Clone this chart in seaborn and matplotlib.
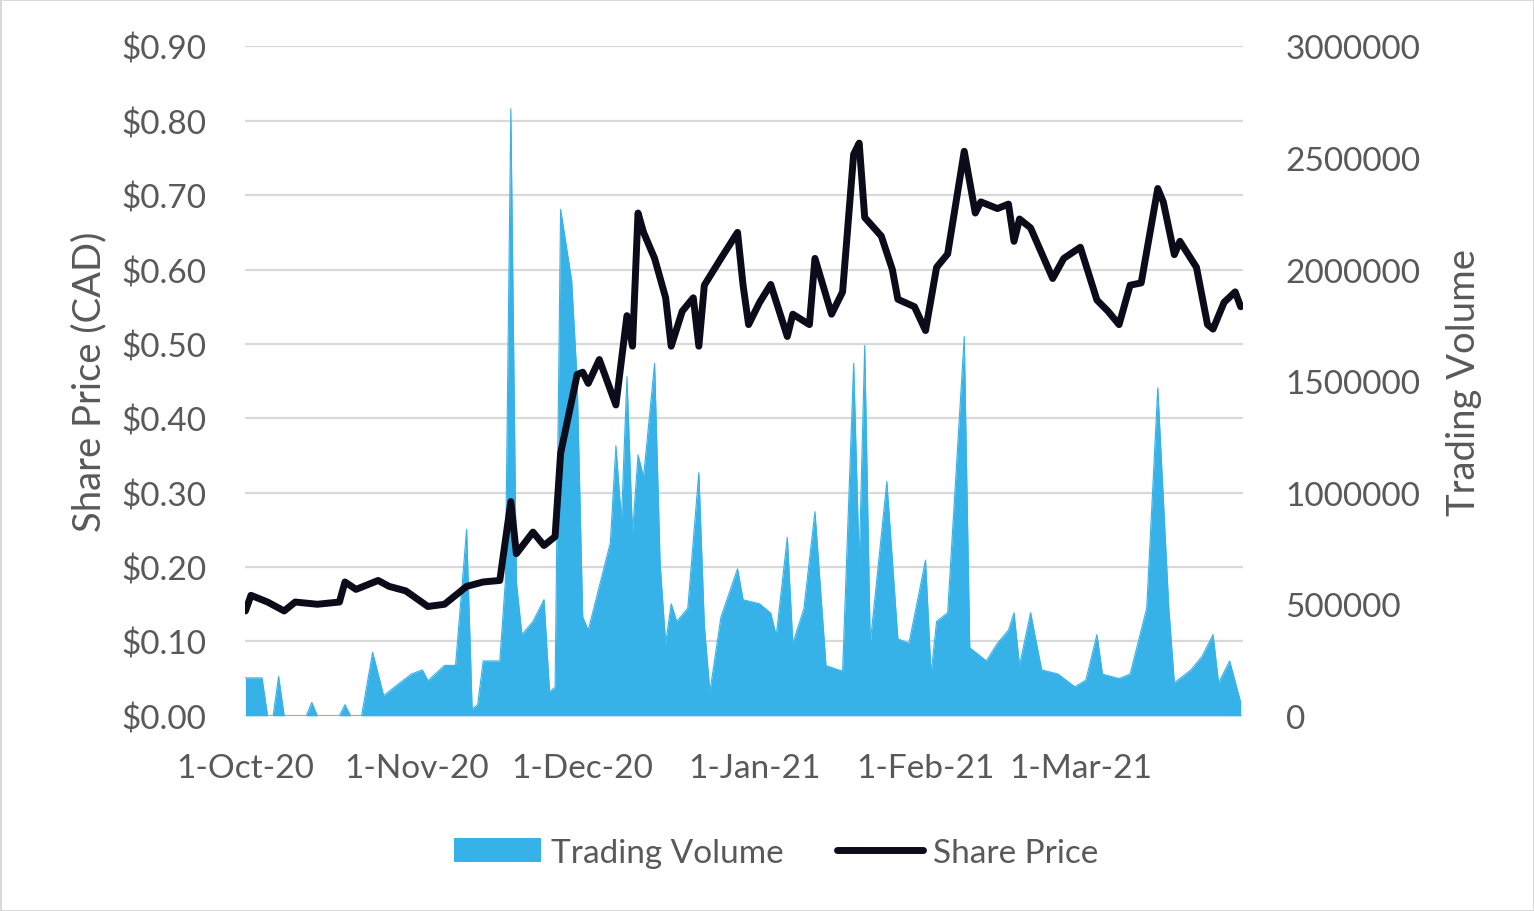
import matplotlib
matplotlib.use("Agg")
import matplotlib.pyplot as plt
from matplotlib.patches import Patch
from matplotlib.lines import Line2D
import pandas as pd
import seaborn as sns

# ---------------- data ----------------
price_dates = [
    "2020-10-01", "2020-10-02", "2020-10-05", "2020-10-08", "2020-10-10", "2020-10-14",
    "2020-10-18", "2020-10-19", "2020-10-21", "2020-10-23", "2020-10-25", "2020-10-27",
    "2020-10-30", "2020-11-03", "2020-11-06", "2020-11-10", "2020-11-13", "2020-11-16",
    "2020-11-18", "2020-11-19", "2020-11-22", "2020-11-24", "2020-11-26", "2020-11-27",
    "2020-11-30", "2020-12-01", "2020-12-02", "2020-12-04", "2020-12-07", "2020-12-09",
    "2020-12-10", "2020-12-11", "2020-12-12", "2020-12-14", "2020-12-16", "2020-12-17",
    "2020-12-19", "2020-12-21", "2020-12-22", "2020-12-23", "2020-12-24", "2020-12-26",
    "2020-12-29", "2020-12-30", "2020-12-31", "2021-01-02", "2021-01-04", "2021-01-07",
    "2021-01-08", "2021-01-11", "2021-01-12", "2021-01-13", "2021-01-15", "2021-01-17",
    "2021-01-19", "2021-01-20", "2021-01-21", "2021-01-24", "2021-01-26", "2021-01-27",
    "2021-01-30", "2021-02-01", "2021-02-03", "2021-02-05", "2021-02-08", "2021-02-10",
    "2021-02-11", "2021-02-14", "2021-02-16", "2021-02-17", "2021-02-18", "2021-02-20",
    "2021-02-24", "2021-02-26", "2021-03-01", "2021-03-04", "2021-03-06", "2021-03-08",
    "2021-03-10", "2021-03-12", "2021-03-15", "2021-03-16", "2021-03-18", "2021-03-19",
    "2021-03-22", "2021-03-24", "2021-03-25", "2021-03-27", "2021-03-29", "2021-03-30",
]
price_values = [
    0.141, 0.162, 0.153, 0.141, 0.153, 0.150,
    0.153, 0.180, 0.170, 0.176, 0.182, 0.174,
    0.168, 0.147, 0.150, 0.174, 0.180, 0.182,
    0.288, 0.218, 0.247, 0.229, 0.241, 0.353,
    0.459, 0.462, 0.447, 0.479, 0.418, 0.538,
    0.497, 0.676, 0.650, 0.615, 0.562, 0.497,
    0.544, 0.562, 0.497, 0.579, 0.591, 0.615,
    0.650, 0.579, 0.526, 0.556, 0.580, 0.510,
    0.540, 0.526, 0.615, 0.590, 0.540, 0.570,
    0.755, 0.770, 0.670, 0.645, 0.600, 0.560,
    0.550, 0.518, 0.603, 0.621, 0.759, 0.676,
    0.691, 0.682, 0.688, 0.638, 0.668, 0.656,
    0.588, 0.615, 0.630, 0.559, 0.544, 0.526,
    0.579, 0.582, 0.709, 0.691, 0.620, 0.638,
    0.603, 0.526, 0.520, 0.556, 0.570, 0.550,
]

vol_dates = [
    "2020-10-01", "2020-10-04", "2020-10-05", "2020-10-06", "2020-10-07", "2020-10-08",
    "2020-10-12", "2020-10-13", "2020-10-14", "2020-10-18", "2020-10-19", "2020-10-20",
    "2020-10-22", "2020-10-24", "2020-10-26", "2020-10-28", "2020-10-31", "2020-11-02",
    "2020-11-03", "2020-11-06", "2020-11-08", "2020-11-10", "2020-11-11", "2020-11-12",
    "2020-11-13", "2020-11-16", "2020-11-17", "2020-11-18", "2020-11-19", "2020-11-20",
    "2020-11-22", "2020-11-24", "2020-11-25", "2020-11-26", "2020-11-27", "2020-11-29",
    "2020-11-30", "2020-12-01", "2020-12-02", "2020-12-03", "2020-12-06", "2020-12-07",
    "2020-12-08", "2020-12-09", "2020-12-10", "2020-12-11", "2020-12-12", "2020-12-14",
    "2020-12-15", "2020-12-16", "2020-12-17", "2020-12-18", "2020-12-20", "2020-12-22",
    "2020-12-23", "2020-12-24", "2020-12-26", "2020-12-29", "2020-12-30", "2021-01-02",
    "2021-01-04", "2021-01-05", "2021-01-07", "2021-01-08", "2021-01-10", "2021-01-12",
    "2021-01-14", "2021-01-17", "2021-01-19", "2021-01-20", "2021-01-21", "2021-01-22",
    "2021-01-25", "2021-01-27", "2021-01-29", "2021-02-01", "2021-02-02", "2021-02-03",
    "2021-02-05", "2021-02-08", "2021-02-09", "2021-02-11", "2021-02-12", "2021-02-14",
    "2021-02-16", "2021-02-17", "2021-02-18", "2021-02-20", "2021-02-22", "2021-02-25",
    "2021-02-28", "2021-03-02", "2021-03-04", "2021-03-05", "2021-03-08", "2021-03-10",
    "2021-03-13", "2021-03-14", "2021-03-15", "2021-03-17", "2021-03-18", "2021-03-21",
    "2021-03-23", "2021-03-25", "2021-03-26", "2021-03-28", "2021-03-30",
]
vol_values = [
    170000, 170000, 0, 0, 177000, 0,
    0, 60000, 0, 0, 50000, 0,
    0, 285000, 90000, 130000, 187000, 206000,
    157000, 226000, 226000, 836000, 30000, 50000,
    246000, 246000, 600000, 2720000, 600000, 364000,
    423000, 521000, 108000, 128000, 2270000, 1950000,
    1500000, 443000, 384000, 482000, 777000, 1210000,
    875000, 1520000, 816000, 1170000, 1070000, 1580000,
    679000, 325000, 502000, 423000, 482000, 1090000,
    403000, 108000, 443000, 659000, 520000, 502000,
    460000, 360000, 800000, 325000, 480000, 915000,
    225000, 200000, 1580000, 680000, 1660000, 325000,
    1050000, 345000, 325000, 698000, 187000, 423000,
    462000, 1700000, 305000, 266000, 246000, 325000,
    384000, 462000, 226000, 462000, 206000, 187000,
    130000, 160000, 364000, 187000, 167000, 187000,
    482000, 974000, 1470000, 482000, 148000, 206000,
    266000, 364000, 148000, 246000, 60000,
]

xtick_dates = ["2020-10-01", "2020-11-01", "2020-12-01", "2021-01-01", "2021-02-01", "2021-03-01"]
xtick_labels = ["1-Oct-20", "1-Nov-20", "1-Dec-20", "1-Jan-21", "1-Feb-21", "1-Mar-21"]
price_ticks = [0.0, 0.1, 0.2, 0.3, 0.4, 0.5, 0.6, 0.7, 0.8, 0.9]
vol_ticks = [0, 500000, 1000000, 1500000, 2000000, 2500000, 3000000]

# ---------------- style ----------------
sns.set_theme(style="white")
plt.rcParams["font.family"] = ["Lato", "DejaVu Sans"]
TXT = "#595959"
BLUE = "#36B2E8"
LINE = "#0B0B1A"
FS = 24
FS_TITLE = 27.5
LW = 5.0

price_df = pd.DataFrame({"date": pd.to_datetime(price_dates), "price": price_values})
vol_df = pd.DataFrame({"date": pd.to_datetime(vol_dates), "volume": vol_values})

fig = plt.figure(figsize=(15.34, 9.12), dpi=100)
fig.patch.set_facecolor("white")
fig.patch.set_edgecolor("#D9D9D9")
fig.patch.set_linewidth(2)

ax = fig.add_axes([0.160, 0.214, 0.650, 0.734])   # grid + left axis
ax_vol = ax.twinx()                                  # volume area (right axis)
ax_price = ax.twinx()                                # price line on top

x0 = pd.Timestamp("2020-10-01")
x1 = pd.Timestamp("2021-03-30 08:00")

# grid axis
ax.set_ylim(0, 0.9)
ax.set_yticks(price_ticks)
ax.set_yticklabels([f"${v:.2f}" for v in price_ticks])
ax.yaxis.grid(True, color="#D9D9D9", linewidth=1.6)
ax.xaxis.grid(False)
ax.set_xlim(x0, x1)
ax.set_xticks(pd.to_datetime(xtick_dates))
ax.set_xticklabels(xtick_labels)
ax.tick_params(axis="x", length=0, pad=27, labelsize=FS, labelcolor=TXT)
ax.tick_params(axis="y", length=0, pad=28, labelsize=FS, labelcolor=TXT)
ax.set_ylabel("Share Price (CAD)", fontsize=FS_TITLE, color=TXT, labelpad=10)
for s in ax.spines.values():
    s.set_visible(False)

# volume area
ax_vol.fill_between(vol_df["date"], 0, vol_df["volume"], color=BLUE, linewidth=0, zorder=2)
sns.lineplot(data=vol_df, x="date", y="volume", ax=ax_vol, color=BLUE, linewidth=0.8, zorder=3)
ax_vol.set_ylim(0, 3000000)
ax_vol.set_yticks(vol_ticks)
ax_vol.set_yticklabels([str(v) for v in vol_ticks])
ax_vol.tick_params(axis="y", length=0, pad=31, labelsize=FS, labelcolor=TXT)
ax_vol.set_ylabel("Trading Volume", fontsize=FS_TITLE, color=TXT, labelpad=18)
ax_vol.grid(False)
ax_vol.set_xlim(x0, x1)
for s in ax_vol.spines.values():
    s.set_visible(False)

# price line
sns.lineplot(data=price_df, x="date", y="price", ax=ax_price, color=LINE, linewidth=LW,
             solid_joinstyle="round", solid_capstyle="round")
ax_price.set_ylim(0, 0.9)
ax_price.set_xlim(x0, x1)
ax_price.set_yticks([])
ax_price.set_ylabel("")
ax_price.grid(False)
for s in ax_price.spines.values():
    s.set_visible(False)
for a in (ax, ax_vol, ax_price):
    a.set_xlabel("")

handles = [Patch(facecolor=BLUE, edgecolor="none"),
           Line2D([0], [0], color=LINE, linewidth=LW)]
fig.legend(handles, ["Trading Volume", "Share Price"], loc="center",
           bbox_to_anchor=(0.506, 0.064), ncol=2, frameon=False,
           fontsize=FS, labelcolor=TXT, handlelength=2.6, handleheight=0.7,
           handletextpad=0.3, columnspacing=1.6)

fig.savefig("out.png", dpi=100)
